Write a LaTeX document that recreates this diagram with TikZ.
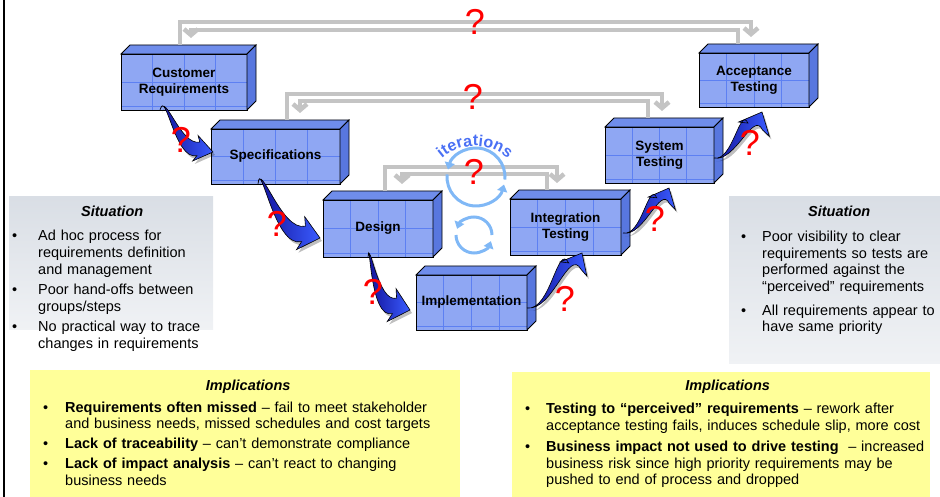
\documentclass[tikz,border=0pt]{standalone}
\usepackage{fontspec}
\setmainfont{Liberation Sans}
\usetikzlibrary{arrows.meta,calc,decorations.text}

\definecolor{boxfront}{HTML}{8FA7F3}
\definecolor{boxtop}{HTML}{6F8DEB}
\definecolor{boxside}{HTML}{5877DF}
\definecolor{boxgrid}{HTML}{5D80F2}
\definecolor{loopgray}{HTML}{C4C4C4}
\definecolor{iterblue}{HTML}{80B8F6}
\definecolor{iterword}{HTML}{4A70F4}
\definecolor{arrowdark}{HTML}{12129A}
\definecolor{arrowbright}{HTML}{3A5CFF}
\definecolor{sitgray}{HTML}{D9DEE5}
\definecolor{implyellow}{HTML}{FFFF99}

\newlength{\bulletindent}
\newcommand{\pitem}[1]{\par\noindent\hangindent=\bulletindent\relax\hangafter=1\relax
  \makebox[\bulletindent][l]{\textbullet}#1\par}

\newcommand{\stagefaces}[1]{%
  \draw[line width=0.8pt,fill=boxtop] (#1.north west) -- ([shift={(9pt,9pt)}]#1.north west)
    -- ([shift={(9pt,9pt)}]#1.north east) -- (#1.north east) -- cycle;
  \draw[line width=0.8pt,fill=boxside] (#1.north east) -- ([shift={(9pt,9pt)}]#1.north east)
    -- ([shift={(9pt,9pt)}]#1.south east) -- (#1.south east) -- cycle;}

\newcommand{\bendarrow}[7]{%
  \coordinate (btail) at (#1);
  \coordinate (btip) at (#2);
  \pgfmathsetmacro{\backang}{#4+180}%
  \pgfmathsetmacro{\sidea}{#4+90}%
  \pgfmathsetmacro{\sideb}{#4-90}%
  \path[arrowshadow] (btail) to[out=#3,in=\backang] ($(btip)+(\backang:#5)+(\sidea:#7)$)
    -- ($(btip)+(\backang:#5+3)+(\sidea:#6)$) -- (btip)
    -- ($(btip)+(\backang:#5+3)+(\sideb:#6)$) -- ($(btip)+(\backang:#5)+(\sideb:#7)$)
    to[out=\backang,in=#3] (btail) -- cycle;
  \path[arrowbody] (btail) to[out=#3,in=\backang] ($(btip)+(\backang:#5)+(\sidea:#7)$)
    -- ($(btip)+(\backang:#5+3)+(\sidea:#6)$) -- (btip)
    -- ($(btip)+(\backang:#5+3)+(\sideb:#6)$) -- ($(btip)+(\backang:#5)+(\sideb:#7)$)
    to[out=\backang,in=#3] (btail) -- cycle;}

\begin{document}
\begin{tikzpicture}[x=1pt,y=-1pt,
    stage/.style={draw,line width=0.8pt,fill=boxfront,inner sep=0pt,outer sep=0pt,
      align=center,font=\fontsize{13.5}{16}\selectfont\bfseries,
      path picture={
        \foreach \f in {0.25,0.5,0.75}
          \draw[boxgrid,line width=0.7pt]
            ($(path picture bounding box.north west)!\f!(path picture bounding box.north east)$) --
            ($(path picture bounding box.south west)!\f!(path picture bounding box.south east)$);
        \draw[boxgrid,line width=0.7pt] (path picture bounding box.west) -- (path picture bounding box.east);
        \draw[boxgrid,line width=0.7pt] ([yshift=4pt]path picture bounding box.south west)
          -- ([yshift=4pt]path picture bounding box.south east);}},
    feedback/.style={draw=loopgray,line width=4.5pt,shorten >=7pt,
      -{Straight Barb[length=6pt,width=14pt]}},
    iterloop/.style={draw=iterblue,line width=3pt,-{Triangle[length=7pt,width=10pt]}},
    qmark/.style={text=red,inner sep=0pt,font=\fontsize{36}{36}\selectfont},
    panel/.style={anchor=base west,inner sep=0pt,align=left},
    arrowshadow/.style={fill=black,opacity=0.25,transform canvas={xshift=2pt,yshift=-3pt}},
    arrowbody/.style={left color=arrowdark,right color=arrowbright,draw=black,line width=0.6pt}]

    \useasboundingbox (0,0) rectangle (940,497);
    \draw[line width=2pt] (4,0) -- (4,497);

    \fill[top color=sitgray,bottom color=sitgray!40!white] (9,197) rectangle (213,329);
    \fill[top color=sitgray,bottom color=sitgray!40!white] (729,197) rectangle (940,363);
    \fill[implyellow] (30,370) rectangle (460,497);
    \fill[implyellow] (512,372) rectangle (930,497);

    \node[stage,minimum width=126pt,minimum height=56pt] (cr) at (184,82) {Customer\\Requirements};
    \node[stage,minimum width=129pt,minimum height=55pt] (spec) at (275.5,156.5) {Specifications};
    \node[stage,minimum width=110pt,minimum height=57pt] (design) at (378,228.5) {Design};
    \node[stage,minimum width=111pt,minimum height=55pt] (impl) at (471.5,302.5) {Implementation};
    \node[stage,minimum width=111pt,minimum height=56pt] (integ) at (565.5,227) {Integration\\Testing};
    \node[stage,minimum width=109pt,minimum height=56pt] (sys) at (659.5,155) {System\\Testing};
    \node[stage,minimum width=110pt,minimum height=54pt] (accept) at (754,80) {Acceptance\\Testing};
    \foreach \b in {cr,spec,design,impl,integ,sys,accept}
      \stagefaces{\b};

    \draw[feedback] ([xshift=-4pt,yshift=9pt]cr.north) -- ++(0,-23) -| ([xshift=-3pt,yshift=9pt]accept.north);
    \draw[feedback] ([xshift=-16pt,yshift=9pt]accept.north) -- ++(0,-14) -| ([xshift=7pt,yshift=9pt]cr.north);
    \draw[feedback] ([xshift=11.5pt,yshift=9pt]spec.north) -- ++(0,-26) -| ([xshift=2.5pt,yshift=9pt]sys.north);
    \draw[feedback] ([xshift=-11.5pt,yshift=9pt]sys.north) -- ++(0,-17) -| ([xshift=24.5pt,yshift=9pt]spec.north);
    \draw[feedback] ([xshift=7pt,yshift=9pt]design.north) -- ++(0,-24) -| ([xshift=-8.5pt,yshift=9pt]integ.north);
    \draw[feedback] ([xshift=-18.5pt,yshift=9pt]integ.north) -- ++(0,-16) -| ([xshift=24pt,yshift=9pt]design.north);

    \coordinate (iterbig) at (476,177);
    \coordinate (itersmall) at (474,235);
    \coordinate (iterword) at (475,196);
    \draw[iterloop] ($(iterbig)+(5:29)$) arc[start angle=5,end angle=-165,radius=29];
    \draw[iterloop] ($(iterbig)+(185:29)$) arc[start angle=185,end angle=15,radius=29];
    \draw[iterloop] ($(itersmall)+(0:18)$) arc[start angle=0,end angle=-160,radius=18];
    \draw[iterloop] ($(itersmall)+(180:18)$) arc[start angle=180,end angle=20,radius=18];
    \path[decorate,decoration={text along path,text align=center,text color=iterword,
      text={|\fontsize{16}{16}\selectfont\bfseries|iterations}}]
      ($(iterword)+(-165:50)$) arc[start angle=-165,end angle=-15,radius=50];

    \bendarrow{[xshift=-24pt]cr.south}{[xshift=2pt,yshift=4.5pt]spec.west}{75}{12}{15}{13}{7}
    \bendarrow{[xshift=-17.5pt]spec.south}{[xshift=-3pt,yshift=-9.5pt]design.west}{85}{14}{17}{17}{8}
    \bendarrow{[xshift=-10pt]design.south}{[xshift=-6pt,yshift=-7.5pt]impl.west}{85}{15}{16}{17}{8}
    \bendarrow{[yshift=-5.5pt]impl.east}{[xshift=16.5pt,yshift=2pt]integ.south}{-8}{-62}{15}{15}{7}
    \bendarrow{[xshift=2pt,yshift=-6pt]integ.east}{[xshift=9.5pt,yshift=-5pt]sys.south}{-12}{-65}{14}{15}{7}
    \bendarrow{[yshift=-3pt]sys.east}{[xshift=8pt,yshift=-5pt]accept.south}{-12}{-65}{16}{17}{8}

    \node[qmark] (qtop) at (475,22) {?};
    \node[qmark] (qmid) at (473,97) {?};
    \node[qmark] (qiter) at (474,172) {?};
    \node[qmark] (qone) at (181,140) {?};
    \node[qmark] (qtwo) at (277,224) {?};
    \node[qmark] (qthree) at (373,292) {?};
    \node[qmark] (qfour) at (565,299) {?};
    \node[qmark] (qfive) at (655,219) {?};
    \node[qmark] (qsix) at (750,143) {?};

    \node[panel,text width=200pt,font=\fontsize{14.5}{17}\selectfont] (sitleft) at (12,217) {%
      \setlength{\bulletindent}{26pt}\setlength{\parskip}{3pt}%
      {\centering\bfseries\itshape Situation\par}\vspace{4pt}%
      \pitem{Ad hoc process for\newline requirements definition\newline and management}
      \pitem{Poor hand-offs between\newline groups/steps}
      \pitem{No practical way to trace\newline changes in requirements}};
    \node[panel,text width=196pt,font=\fontsize{14.5}{16.5}\selectfont] (sitright) at (741,217) {%
      \setlength{\bulletindent}{21pt}\setlength{\parskip}{7.5pt}%
      {\centering\bfseries\itshape Situation\par}\vspace{1pt}%
      \pitem{Poor visibility to clear\newline requirements so tests are\newline performed against the\newline “perceived” requirements}
      \pitem{All requirements appear to\newline have same priority}};
    \node[panel,text width=410pt,font=\fontsize{14.5}{16.5}\selectfont] (impleft) at (43,390) {%
      \setlength{\bulletindent}{22pt}\setlength{\parskip}{3.5pt}%
      {\centering\bfseries\itshape Implications\par}\vspace{2pt}%
      \pitem{\textbf{Requirements often missed} – fail to meet stakeholder\newline and business needs, missed schedules and cost targets}
      \pitem{\textbf{Lack of traceability} – can’t demonstrate compliance}
      \pitem{\textbf{Lack of impact analysis} – can’t react to changing\newline business needs}};
    \node[panel,text width=405pt,font=\fontsize{14.5}{16.5}\selectfont] (impright) at (525,390) {%
      \setlength{\bulletindent}{21pt}\setlength{\parskip}{5pt}%
      {\centering\bfseries\itshape Implications\par}\vspace{2pt}%
      \pitem{\textbf{Testing to “perceived” requirements} – rework after\newline acceptance testing fails, induces schedule slip, more cost}
      \pitem{\textbf{Business impact not used to drive testing}~ – increased\newline business risk since high priority requirements may be\newline pushed to end of process and dropped}};
\end{tikzpicture}
\end{document}
